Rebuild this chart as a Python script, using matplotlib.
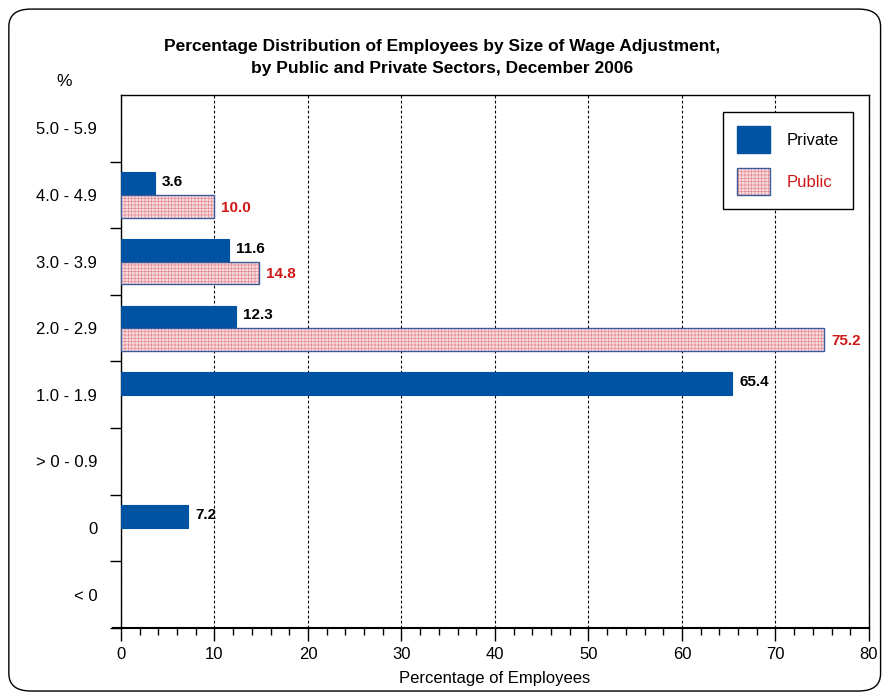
import matplotlib
matplotlib.use('Agg')
from matplotlib import pyplot
from matplotlib.patches import Patch, FancyBboxPatch
from matplotlib.legend_handler import HandlerTuple
import matplotlib.ticker as ticker
import numpy

pyplot.rcParams['font.family'] = ['Liberation Sans Narrow', 'Liberation Sans', 'DejaVu Sans']
pyplot.rcParams['hatch.linewidth'] = 0.5

categories = ['5.0 - 5.9', '4.0 - 4.9', '3.0 - 3.9', '2.0 - 2.9', '1.0 - 1.9', '> 0 - 0.9', '0', '< 0']
private = [None, 3.6, 11.6, 12.3, 65.4, None, 7.2, None]
public = [None, 10.0, 14.8, 75.2, None, None, None, None]

blue = '#0052a3'
red = '#d01818'
pink_face = '#f7dde0'
pink_hatch = '#e58a90'

fig = pyplot.figure(figsize=(8.85, 6.98), dpi=100)
fig.patches.append(FancyBboxPatch((0.010, 0.010), 0.985, 0.977, boxstyle='round,pad=0,rounding_size=0.025',
                                  transform=fig.transFigure, fill=False, edgecolor='black', linewidth=1.0))

ax = fig.add_axes([0.1367, 0.1003, 0.8452, 0.7636])

y = numpy.arange(len(categories))
h = 0.34

for i, (pv, pu) in enumerate(zip(private, public)):
    if pv is not None:
        ax.barh(i - h / 2, pv, height=h, color=blue, edgecolor=blue, linewidth=0.8, zorder=3)
        ax.annotate('%.1f' % pv, (pv, i - h / 2), xytext=(5, 1), textcoords='offset points',
                    va='center', ha='left', fontsize=11, fontweight='bold', color='black')
    if pu is not None:
        ax.barh(i + h / 2, pu, height=h, color=pink_face, edgecolor=pink_hatch, hatch='+++++', linewidth=0, zorder=3)
        ax.barh(i + h / 2, pu, height=h, fill=False, edgecolor='#3a5a9a', linewidth=1.0, zorder=4)
        ax.annotate('%.1f' % pu, (pu, i + h / 2), xytext=(5, -1), textcoords='offset points',
                    va='center', ha='left', fontsize=11, fontweight='bold', color=red)

ax.set_xlim(0, 80)
ax.set_ylim(len(categories) - 0.5, -0.5)

ax.xaxis.set_major_locator(ticker.MultipleLocator(10))
ax.xaxis.set_minor_locator(ticker.MultipleLocator(2))
ax.tick_params(axis='x', which='major', length=9, width=1, labelsize=12, pad=5)
ax.tick_params(axis='x', which='minor', length=5, width=1)

ax.set_yticks(y)
ax.set_yticklabels(categories)
ax.yaxis.set_minor_locator(ticker.FixedLocator(numpy.arange(0.5, len(categories), 1)))
ax.tick_params(axis='y', which='major', length=0, labelsize=12, pad=17)
ax.tick_params(axis='y', which='minor', length=8, width=1)

ax.grid(axis='x', which='major', color='black', linestyle=(0, (2.5, 2)), linewidth=0.8, zorder=1)
ax.set_axisbelow(True)
for s in ax.spines.values():
    s.set_linewidth(1.0)
    s.set_color('black')
ax.spines['bottom'].set_linewidth(1.5)
ax.plot([-0.011, 0], [0, 0], transform=ax.transAxes, color='black', linewidth=1.5, clip_on=False)

ax.set_xlabel('Percentage of Employees', fontsize=12, labelpad=6)
fig.text(0.073, 0.883, '%', fontsize=12.5, ha='center', va='center')
fig.text(0.5, 0.918, 'Percentage Distribution of Employees by Size of Wage Adjustment,\nby Public and Private Sectors, December 2006',
         ha='center', va='center', fontsize=12.5, fontweight='bold', linespacing=1.55)

handles = [Patch(facecolor=blue, edgecolor=blue),
           (Patch(facecolor=pink_face, edgecolor=pink_hatch, hatch='+++++', linewidth=0),
            Patch(fill=False, edgecolor='#3a5a9a', linewidth=1.0))]
leg = ax.legend(handles, ['Private', 'Public'], handler_map={tuple: HandlerTuple(ndivide=1)},
                loc='upper right', bbox_to_anchor=(0.979, 0.968), fancybox=False, framealpha=1,
                edgecolor='black', fontsize=12, handlelength=2.0, handleheight=2.1,
                borderpad=0.85, labelspacing=0.9, handletextpad=1.0, borderaxespad=0)
leg.get_frame().set_linewidth(1.0)
leg.get_texts()[1].set_color(red)

fig.savefig('out.png', dpi=100)
